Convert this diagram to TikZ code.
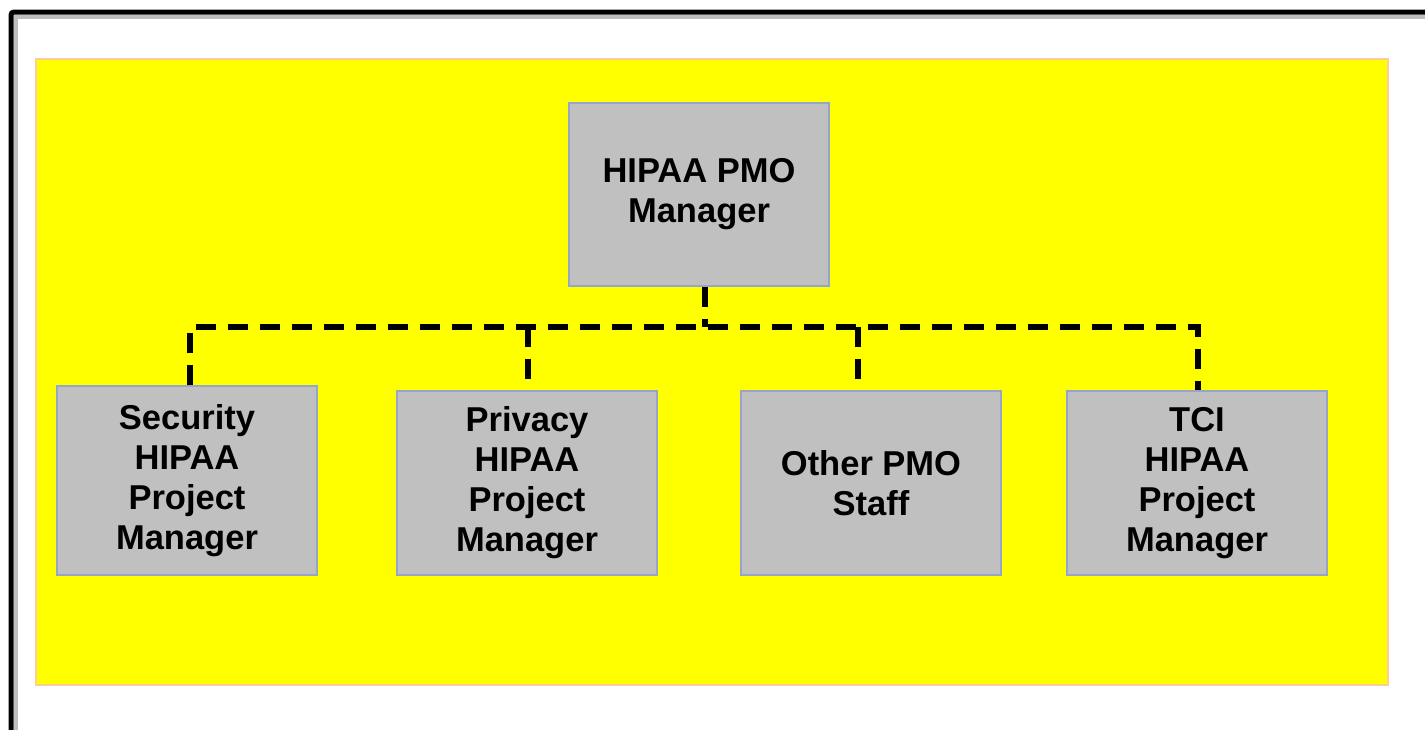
\documentclass[tikz,border=0pt]{standalone}
\usepackage{fontspec}
\setmainfont{Liberation Sans}
\definecolor{panelyellow}{RGB}{255,255,0}
\definecolor{panelrim}{RGB}{255,204,153}
\definecolor{boxgray}{RGB}{192,192,192}
\definecolor{boxrim}{RGB}{150,165,200}
\definecolor{framegray}{RGB}{190,190,190}
\begin{document}
\begin{tikzpicture}[x=1pt,y=-1pt,
  panel/.style={fill=panelyellow, draw=panelrim, line width=1.5pt},
  role/.style={fill=boxgray, draw=boxrim,
    line width=1.2pt, minimum width=260pt, align=center, inner sep=0pt,
    font=\fontsize{34.5}{40}\selectfont\bfseries},
  link/.style={line width=6pt, dash pattern=on 20pt off 12pt}]
  \useasboundingbox (0,0) rectangle (1425,729);
  % outer frame, running off the right and bottom edges
  \begin{scope}
    \clip (0,0) rectangle (1425,729);
    \draw[line width=4pt, color=framegray] (16,740) -- (16,17) -- (1440,17);
    \draw[line width=5pt, rounded corners=3pt] (11,740) -- (11,12) -- (1440,12);
  \end{scope}
  % yellow panel
  \draw[panel] (36,59) rectangle (1388,685);
  % boxes
  \node[role, minimum height=183pt] (pmo) at (699,194.5) {HIPAA PMO\\Manager};
  \node[role, minimum height=189pt] (sec) at (187,480.5) {Security\\HIPAA\\Project\\Manager};
  \node[role, minimum height=184pt] (pri) at (527,483) {Privacy\\HIPAA\\Project\\Manager};
  \node[role, minimum height=184pt] (oth) at (871,483) {Other PMO\\Staff};
  \node[role, minimum height=184pt] (tci) at (1197,483) {TCI\\HIPAA\\Project\\Manager};
  % dashed reporting lines
  \coordinate (bus) at (705,327);
  \draw[link] (pmo.south -| bus) -- (bus);
  \draw[link] (sec.north -| 190,0) -- (190,327) -- (1198,327) -- (tci.north -| 1198,0);
  \draw[link] (528,327) -- (pri.north -| 528,0);
  \draw[link] (858,327) -- (oth.north -| 858,0);
\end{tikzpicture}
\end{document}
